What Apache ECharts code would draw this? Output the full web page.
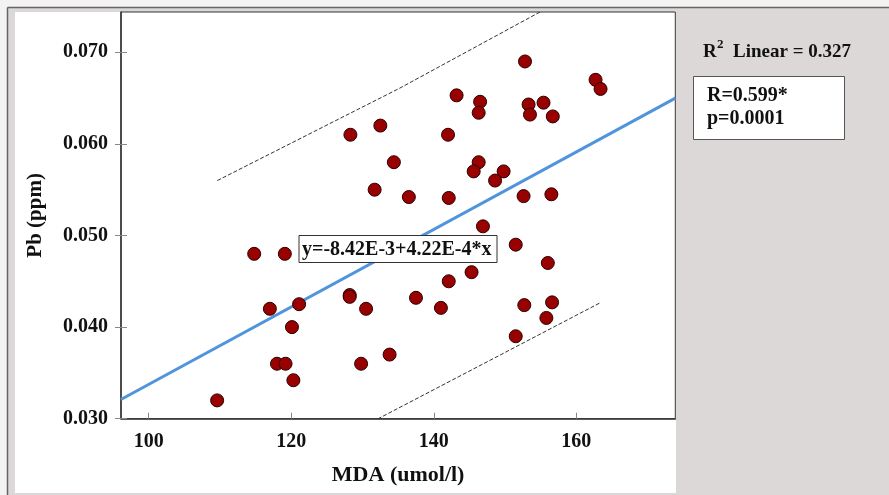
<!DOCTYPE html>
<html>
<head>
<meta charset="utf-8">
<script src="https://cdn.jsdelivr.net/npm/echarts@6/dist/echarts.min.js"></script>
<style>
html,body{margin:0;padding:0;background:#dcd8d8;}
#chart{width:889px;height:495px;}
</style>
</head>
<body>
<div id="chart"></div>
<script>
// ---- data ----
var mdaValues = [128.3,132.5,134.4,131.7,152.8,162.7,163.4,143.2,146.5,146.3,153.3,155.4,153.5,156.7,142.0,146.3,145.6,149.8,148.6,136.5,142.1,152.6,156.5,146.9,114.8,119.1,128.2,128.2,117.0,121.1,130.5,120.1,118.0,119.2,129.8,133.8,120.3,109.6,151.5,156.0,145.3,142.1,137.5,141.0,152.7,156.6,155.8,151.5];
var pbValues  = [0.0610,0.0620,0.0580,0.0550,0.0690,0.0670,0.0660,0.0653,0.0646,0.0634,0.0643,0.0645,0.0632,0.0630,0.0610,0.0580,0.0570,0.0570,0.0560,0.0542,0.0541,0.0543,0.0545,0.0510,0.0480,0.0480,0.0435,0.0433,0.0420,0.0425,0.0420,0.0400,0.0360,0.0360,0.0360,0.0370,0.0342,0.0320,0.0490,0.0470,0.0460,0.0450,0.0432,0.0421,0.0424,0.0427,0.0410,0.0390];
var fitX = [96.1, 173.9];
var fitY = [0.0321, 0.0650];
var upperX = [109.63, 135.26, 154.9, 163.46];
var upperY = [0.0560, 0.0661, 0.0744, 0.0784];
var lowerX = [109.63, 132.2, 163.46];
var lowerY = [0.0197, 0.0300, 0.0427];
var xTicks = [100, 120, 140, 160];
var yTicks = [0.030, 0.040, 0.050, 0.060, 0.070];
var xTitle = 'MDA (umol/l)';
var yTitle = 'Pb (ppm)';
var equationText = 'y=-8.42E-3+4.22E-4*x';
var r2Text = 'Linear = 0.327';
var rText = 'R=0.599*';
var pText = 'p=0.0001';

function pairs(xs, ys){ return xs.map(function(x,i){ return [x, ys[i]]; }); }

var FONT = "'Liberation Serif','Times New Roman',serif";
var chart = echarts.init(document.getElementById('chart'), null, {renderer:'canvas'});
var option = {
  backgroundColor: '#dcd8d8',
  animation: false,
  grid: {left:121, right:213.7, top:12, bottom:76.3, show:true, backgroundColor:'#ffffff', borderColor:'#333', borderWidth:1},
  xAxis: {
    type:'value', min:96.11, max:173.89,
    axisLine:{show:true, lineStyle:{color:'#333', width:1.5}},
    axisTick:{show:true, inside:true, length:6, customValues:xTicks, lineStyle:{color:'#888'}},
    axisLabel:{show:true, customValues:xTicks, margin:13, color:'#111', fontFamily:FONT, fontWeight:'bold', fontSize:20},
    splitLine:{show:false},
    name:xTitle, nameLocation:'middle', nameGap:46,
    nameTextStyle:{color:'#111', fontFamily:FONT, fontWeight:'bold', fontSize:22}
  },
  yAxis: [{
    type:'value', min:0.030, max:0.0744,
    axisLine:{show:true, lineStyle:{color:'#333', width:1.5}},
    axisTick:{show:true, inside:false, length:6, customValues:yTicks, lineStyle:{color:'#888'}},
    axisLabel:{show:true, customValues:yTicks, margin:13, color:'#111', fontFamily:FONT, fontWeight:'bold', fontSize:20,
      formatter:function(v){ return v.toFixed(3); }},
    splitLine:{show:false},
    name:yTitle, nameLocation:'middle', nameGap:75, nameRotate:90,
    nameTextStyle:{color:'#111', fontFamily:FONT, fontWeight:'bold', fontSize:21}
  },{
    type:'value', min:0.030, max:0.0744, position:'left',
    axisLine:{show:false},
    axisTick:{show:true, inside:true, length:6, customValues:yTicks, lineStyle:{color:'#888'}},
    axisLabel:{show:false},
    splitLine:{show:false}
  }],
  series: [
    {type:'line', data:pairs(upperX, upperY), symbol:'none', clip:true, z:3,
     lineStyle:{color:'#333', width:1, type:[4,2]}},
    {type:'line', data:pairs(lowerX, lowerY), symbol:'none', clip:true, z:3,
     lineStyle:{color:'#333', width:1, type:[4,2]}},
    {type:'line', data:pairs(fitX, fitY), symbol:'none', clip:true, z:4,
     lineStyle:{color:'#4f94dc', width:3}},
    {type:'scatter', data:pairs(mdaValues, pbValues), symbol:'circle', symbolSize:13, z:5,
     itemStyle:{color:'#990000', borderColor:'#2a0000', borderWidth:1, opacity:1}}
  ],
  graphic: [
    {type:'rect', z:-20, shape:{x:0,y:0,width:889,height:7}, style:{fill:'#f3f3f3'}, silent:true},
    {type:'rect', z:-20, shape:{x:0,y:0,width:7,height:495}, style:{fill:'#f3f3f3'}, silent:true},
    {type:'line', z:-19, shape:{x1:7.5,y1:7.5,x2:889,y2:7.5}, style:{stroke:'#666', lineWidth:1.5}, silent:true},
    {type:'line', z:-19, shape:{x1:7.5,y1:7.5,x2:7.5,y2:495}, style:{stroke:'#666', lineWidth:1.5}, silent:true},
    {type:'rect', z:-18, shape:{x:15,y:12,width:661,height:481}, style:{fill:'#ffffff'}, silent:true},
    {type:'rect', z:10, shape:{x:299,y:235.5,width:198,height:27}, style:{fill:'#ffffff', stroke:'#333', lineWidth:1}},
    {type:'text', z:11, x:302, y:249.5, style:{text:equationText, fill:'#111', font:'bold 20px '+FONT, verticalAlign:'middle'}},
    {type:'text', z:11, x:703, y:52, style:{text:'R', fill:'#111', font:'bold 19px '+FONT, verticalAlign:'middle'}},
    {type:'text', z:11, x:717, y:45, style:{text:'2', fill:'#111', font:'bold 13px '+FONT, verticalAlign:'middle'}},
    {type:'text', z:11, x:733, y:52, style:{text:r2Text, fill:'#111', font:'bold 19px '+FONT, verticalAlign:'middle'}},
    {type:'rect', z:10, shape:{x:693.5,y:76.5,width:151,height:63}, style:{fill:'#ffffff', stroke:'#555', lineWidth:1}},
    {type:'text', z:11, x:707, y:96, style:{text:rText, fill:'#111', font:'bold 20px '+FONT, verticalAlign:'middle'}},
    {type:'text', z:11, x:707, y:119, style:{text:pText, fill:'#111', font:'bold 20px '+FONT, verticalAlign:'middle'}}
  ]
};
chart.setOption(option);
</script>
</body>
</html>
